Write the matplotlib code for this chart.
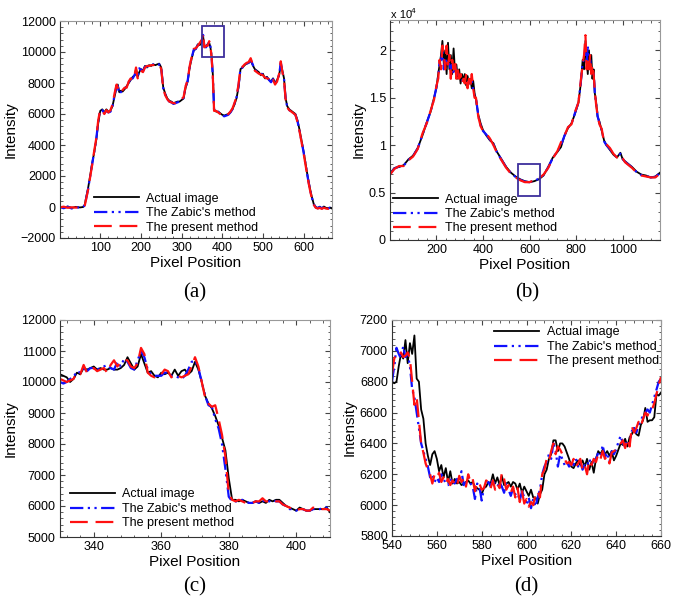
import numpy as np
import matplotlib.pyplot as plt
from matplotlib.ticker import AutoMinorLocator
from matplotlib.patches import Rectangle

plt.rcParams['font.family'] = ['Liberation Sans', 'DejaVu Sans']

# ---------------------------------------------------------------
# (a) full profile, 1..670 px
# ---------------------------------------------------------------
xa = [1, 10, 20, 30, 40, 50, 58, 62, 66, 70,
      75, 80, 85, 90, 95, 100, 105, 110, 115, 120,
      125, 130, 135, 140, 143, 147, 150, 155, 160, 165,
      170, 175, 180, 185, 188, 192, 196, 200, 205, 210,
      215, 220, 225, 230, 235, 240, 245, 250, 255, 260,
      265, 270, 275, 280, 285, 290, 295, 300, 305, 310,
      315, 320, 325, 330, 335, 340, 345, 350, 353, 356,
      360, 364, 368, 371, 374, 377, 380, 385, 390, 395,
      400, 405, 410, 415, 420, 425, 430, 435, 440, 445,
      450, 455, 460, 465, 470, 475, 480, 485, 490, 495,
      500, 505, 510, 515, 520, 525, 530, 535, 540, 544,
      548, 552, 556, 560, 565, 570, 575, 580, 585, 590,
      595, 600, 605, 610, 615, 620, 625, 630, 635, 640,
      645, 650, 655, 660, 665, 670]
actual_a = [20, -40, 30, -60, 10, -30, 0, 150, 700, 1200,
            2000, 2800, 3500, 4300, 5400, 6200, 6300, 6100, 6300, 6150,
            6200, 6500, 7100, 7700, 7900, 7400, 7500, 7450, 7600, 7800,
            8000, 8200, 8400, 8500, 8900, 8400, 8700, 8900, 8800, 9100,
            9000, 9150, 9100, 9200, 9150, 9200, 9250, 9000, 7700, 7300,
            7000, 6850, 6800, 6700, 6750, 6800, 6800, 6900, 7000, 7700,
            8100, 9000, 9600, 10100, 10200, 10500, 10450, 10700, 11000, 10400,
            10350, 10500, 10600, 10300, 9700, 8500, 6300, 6150, 6150, 6050,
            5950, 5900, 5950, 6000, 6100, 6300, 6600, 7000, 7700, 8900,
            9000, 9150, 9250, 9300, 9450, 9150, 8900, 8800, 8700, 8500,
            8600, 8300, 8400, 8200, 8100, 8300, 8000, 8200, 8500, 9200,
            8800, 8300, 7000, 6500, 6300, 6200, 6100, 6000, 5600, 5000,
            4300, 3600, 2800, 2000, 1300, 700, 200, 0, -60, 20,
            -80, 30, -50, -80, -40, -100]
zabic_a = [0, -80, 20, -100, -20, -50, 20, 120, 650, 1150,
           1950, 2750, 3550, 4350, 5500, 6250, 6250, 6050, 6200, 6100,
           6150, 6450, 7200, 7800, 7800, 7300, 7400, 7500, 7650, 7750,
           8050, 8250, 8300, 8550, 8800, 8350, 8950, 8850, 8750, 9050,
           9050, 9100, 9100, 9200, 9150, 9200, 9200, 8950, 7650, 7250,
           6950, 6800, 6750, 6650, 6700, 6750, 6800, 6900, 7050, 7750,
           8150, 9050, 9650, 10150, 10200, 10450, 10500, 10750, 11100, 10350,
           10300, 10450, 10650, 10350, 9650, 8400, 6250, 6150, 6150, 6000,
           5900, 5850, 5900, 5950, 6100, 6300, 6650, 7050, 7800, 8950,
           9000, 9200, 9250, 9300, 9500, 9200, 8850, 8750, 8650, 8600,
           8550, 8300, 8350, 8200, 8050, 8250, 7950, 8150, 8550, 9300,
           8750, 8250, 6950, 6450, 6250, 6150, 6050, 5950, 5550, 4950,
           4250, 3550, 2750, 1950, 1250, 650, 180, -20, -80, 0,
           -100, 0, -80, -100, -50, -120]
present_a = [-20, 20, -50, -20, -40, 10, -30, 100, 600, 1100,
             1900, 2700, 3600, 4400, 5600, 6300, 6200, 6000, 6250, 6100,
             6250, 6600, 7300, 7900, 7700, 7500, 7350, 7550, 7700, 7700,
             8100, 8300, 8200, 8600, 9000, 8300, 8500, 8800, 8700, 9000,
             9100, 9100, 9150, 9150, 9200, 9150, 9200, 8900, 7600, 7200,
             6950, 6800, 6750, 6700, 6700, 6800, 6850, 6950, 7100, 7800,
             8200, 9100, 9700, 10200, 10250, 10400, 10600, 10800, 11200, 10300,
             10400, 10400, 10700, 10400, 9600, 8300, 6200, 6200, 6100, 6000,
             5900, 5850, 5900, 6000, 6150, 6350, 6700, 7100, 7900, 9000,
             9050, 9200, 9300, 9350, 9600, 9200, 8800, 8700, 8600, 8550,
             8500, 8350, 8300, 8250, 8000, 8200, 7900, 8100, 8600, 9400,
             8700, 8200, 6900, 6400, 6250, 6150, 6050, 5950, 5500, 4900,
             4200, 3500, 2700, 1900, 1200, 600, 150, -50, -100, -60,
             -120, -50, -100, -120, -60, -150]

# ---------------------------------------------------------------
# (b) full profile, 1..1160 px
# ---------------------------------------------------------------
xb = [1, 20, 40, 60, 80, 100, 120, 140, 160, 175,
      190, 200, 208, 214, 220, 226, 232, 238, 244, 250,
      256, 262, 268, 274, 280, 286, 292, 298, 304, 310,
      316, 322, 328, 334, 340, 346, 352, 358, 364, 370,
      380, 390, 400, 415, 430, 445, 460, 480, 500, 520,
      540, 560, 580, 600, 620, 640, 660, 680, 700, 720,
      735, 750, 765, 780, 795, 810, 820, 828, 834, 840,
      845, 850, 855, 860, 865, 870, 875, 880, 886, 892,
      900, 910, 920, 930, 945, 960, 975, 990, 1000, 1010,
      1025, 1040, 1060, 1080, 1100, 1120, 1140, 1160]
actual_b = [7000, 7600, 7700, 7900, 8500, 8900, 9700, 11000, 12500, 13500,
            15000, 16000, 17500, 18500, 19500, 21000, 18500, 20000, 17500, 20800,
            18000, 19500, 17500, 20200, 17800, 18500, 17000, 18000, 16500, 17500,
            16800, 17500, 16300, 17300, 16500, 17000, 16000, 16800, 15500, 14800,
            13200, 12300, 11600, 11000, 10500, 10200, 9300, 8500, 7700, 7100,
            6700, 6400, 6200, 6100, 6200, 6400, 6800, 7700, 8700, 9300,
            9800, 11000, 11800, 12300, 13300, 14500, 16500, 19000, 18000, 21000,
            19000, 17500, 20000, 18000, 19500, 17000, 18000, 15500, 14500, 13000,
            12500, 11500, 10500, 10000, 9500, 9000, 8700, 9200, 8500, 8300,
            8000, 7700, 7200, 6900, 6800, 6600, 6700, 7100]
zabic_b = [6950, 7550, 7750, 7850, 8450, 8850, 9650, 11100, 12450, 13550,
           14900, 16100, 17200, 18800, 19000, 20000, 18000, 19200, 18500, 19000,
           18500, 18000, 18500, 17500, 18500, 17500, 17500, 17200, 17000, 17000,
           16500, 17000, 16800, 16500, 16800, 16500, 16800, 15800, 15200, 15000,
           13100, 12100, 11500, 11100, 10600, 10100, 9250, 8450, 7650, 7050,
           6650, 6350, 6150, 6100, 6250, 6450, 6850, 7650, 8650, 9350,
           10000, 11000, 11850, 12250, 13400, 14500, 16600, 18800, 19000, 20500,
           18500, 20500, 18500, 19000, 18000, 18000, 17800, 15600, 14300, 13100,
           12300, 11600, 10400, 10000, 9600, 9050, 8700, 9100, 8550, 8250,
           7950, 7650, 7150, 6850, 6750, 6600, 6650, 7050]
present_b = [6900, 7500, 7800, 7800, 8400, 8800, 9600, 11200, 12400, 13600,
             14800, 16200, 17000, 19000, 18000, 20500, 19500, 18000, 20500, 18500,
             19500, 17000, 19000, 18000, 19000, 17000, 18000, 17000, 17500, 16500,
             17000, 16500, 17500, 16000, 17000, 16200, 17500, 16000, 15000, 15000,
             13000, 12000, 11500, 11200, 10700, 10000, 9200, 8400, 7600, 7000,
             6600, 6300, 6100, 6100, 6300, 6500, 6900, 7600, 8600, 9400,
             10300, 11000, 11900, 12200, 13500, 14500, 16800, 18500, 19500, 21600,
             18000, 19000, 18000, 19500, 17500, 18500, 17500, 15800, 14200, 13200,
             12200, 11700, 10300, 10100, 9700, 9100, 8700, 9000, 8600, 8200,
             7900, 7600, 7100, 6800, 6700, 6600, 6600, 7000]

# ---------------------------------------------------------------
# (c) zoom of (a), pixels 330..410
# ---------------------------------------------------------------
xc = list(range(330, 411))
actual_c = [10250, 10200, 10150, 10000, 10100, 10300, 10250, 10450, 10400, 10450,
            10500, 10400, 10450, 10400, 10400, 10450, 10400, 10400, 10450, 10550,
            10800, 10600, 10400, 10500, 10900, 10600, 10300, 10350, 10200, 10150,
            10300, 10250, 10300, 10200, 10400, 10200, 10350, 10400, 10250, 10350,
            10650, 10400, 10000, 9550, 9300, 9150, 8900, 8600, 8200, 7800,
            6900, 6200, 6200, 6150, 6200, 6150, 6100, 6100, 6150, 6100,
            6150, 6100, 6200, 6150, 6200, 6200, 6100, 6000, 5950, 5900,
            5850, 5950, 5900, 5850, 5850, 5900, 5900, 5900, 5900, 5950,
            5800]
zabic_c = [10000, 9950, 10000, 10100, 10150, 10350, 10300, 10450, 10350, 10450,
           10450, 10400, 10450, 10500, 10550, 10450, 10400, 10650, 10500, 10750,
           10650, 10450, 10400, 10700, 11000, 10800, 10400, 10250, 10200, 10200,
           10200, 10300, 10300, 10200, 10200, 10150, 10100, 10200, 10400, 10650,
           10700, 10450, 10000, 9550, 9250, 9200, 8800, 8500, 8000, 7200,
           6300, 6150, 6150, 6150, 6200, 6150, 6100, 6100, 6150, 6100,
           6200, 6100, 6150, 6200, 6150, 6150, 6050, 6000, 5900, 5900,
           5850, 5900, 5900, 5850, 5850, 5900, 5900, 5900, 5950, 5950,
           5850]
present_c = [10100, 10050, 10000, 10050, 10100, 10300, 10250, 10550, 10300, 10400,
             10450, 10350, 10400, 10450, 10300, 10550, 10700, 10500, 10650, 10700,
             10700, 10500, 10450, 10600, 11100, 10900, 10300, 10200, 10150, 10250,
             10250, 10400, 10350, 10150, 10250, 10200, 10150, 10200, 10250, 10500,
             10800, 10500, 10000, 9500, 9300, 9200, 9250, 8800, 8300, 7600,
             6400, 6200, 6150, 6200, 6150, 6100, 6100, 6100, 6150, 6150,
             6250, 6150, 6150, 6200, 6150, 6150, 6050, 6000, 5950, 5900,
             5850, 5900, 5900, 5850, 5850, 5950, 5900, 5900, 5900, 5900,
             5850]

# ---------------------------------------------------------------
# (d) zoom of (b), pixels 540..660
# ---------------------------------------------------------------
xd = list(range(540, 661))
actual_d = [6800, 6790, 6800, 6900, 6980, 6950, 7070, 6920, 7050, 6980,
            7100, 6820, 6800, 6620, 6560, 6400, 6320, 6260, 6330, 6350,
            6300, 6220, 6260, 6180, 6240, 6150, 6220, 6140, 6170, 6140,
            6150, 6130, 6140, 6150, 6160, 6140, 6150, 6120, 6110, 6100,
            6070, 6110, 6120, 6150, 6140, 6200, 6140, 6180, 6130, 6190,
            6130, 6140, 6150, 6120, 6150, 6140, 6100, 6140, 6080, 6120,
            6090, 6060, 6100, 6050, 6050, 6010, 6070, 6100, 6200, 6230,
            6300, 6330, 6420, 6420, 6350, 6400, 6400, 6380, 6340, 6300,
            6250, 6240, 6270, 6290, 6260, 6290, 6250, 6300, 6230, 6280,
            6210, 6300, 6350, 6330, 6360, 6330, 6350, 6320, 6350, 6290,
            6320, 6360, 6400, 6390, 6430, 6380, 6440, 6460, 6500, 6460,
            6450, 6520, 6550, 6630, 6540, 6550, 6550, 6570, 6720, 6710,
            6730]
zabic_d = [6800, 6900, 7020, 6980, 6950, 7030, 6960, 6980, 6900, 6750,
           6700, 6600, 6500, 6400, 6350, 6300, 6250, 6180, 6200, 6150,
           6180, 6150, 6200, 6170, 6140, 6130, 6170, 6150, 6140, 6170,
           6150, 6220, 6130, 6150, 6180, 6140, 6120, 6040, 6140, 6120,
           6030, 6110, 6130, 6150, 6120, 6170, 6130, 6120, 6150, 6120,
           6080, 6150, 6100, 6060, 6110, 6070, 6080, 6030, 6090, 6050,
           6000, 6050, 5980, 6040, 5990, 6050, 6100, 6200, 6250, 6280,
           6330, 6300, 6400, 6350, 6250, 6330, 6300, 6260, 6280, 6250,
           6270, 6260, 6300, 6250, 6280, 6230, 6260, 6250, 6300, 6260,
           6290, 6300, 6340, 6320, 6390, 6310, 6340, 6280, 6350, 6330,
           6360, 6410, 6450, 6400, 6380, 6420, 6400, 6480, 6500, 6470,
           6520, 6550, 6580, 6600, 6620, 6600, 6650, 6700, 6750, 6800,
           6820]
present_d = [6850, 6950, 6980, 6970, 6990, 6960, 6970, 6990, 6950, 6800,
             6650, 6700, 6550, 6400, 6340, 6270, 6230, 6200, 6140, 6200,
             6180, 6210, 6150, 6180, 6140, 6170, 6130, 6160, 6140, 6120,
             6190, 6150, 6170, 6120, 6200, 6150, 6170, 6090, 6150, 6140,
             6100, 6110, 6160, 6150, 6110, 6160, 6100, 6140, 6110, 6210,
             6170, 6100, 6130, 6080, 6120, 6050, 6110, 6020, 6090, 6010,
             6040, 5990, 6020, 6000, 6070, 6090, 6050, 6200, 6230, 6300,
             6280, 6350, 6400, 6330, 6380, 6360, 6330, 6300, 6270, 6280,
             6260, 6300, 6250, 6270, 6300, 6230, 6260, 6200, 6290, 6260,
             6300, 6280, 6330, 6300, 6350, 6300, 6320, 6270, 6340, 6350,
             6360, 6380, 6400, 6420, 6370, 6430, 6380, 6510, 6470, 6500,
             6540, 6510, 6560, 6600, 6580, 6620, 6620, 6660, 6720, 6780,
             6830]

LABELS = ['Actual image', "The Zabic's method", 'The present method']
BOX_COLOR = '#3d2e9c'

fig = plt.figure(figsize=(6.75, 6.03), dpi=100)


def px_axes(l, t, r, b):
    # axes rectangle given in pixel coordinates (origin top-left)
    return fig.add_axes([l / 675, 1 - b / 603, (r - l) / 675, (b - t) / 603])


def draw(ax, x, actual, zabic, present):
    ax.plot(x, actual, color='black', lw=1.3, label=LABELS[0])
    ax.plot(x, zabic, color='#1010ff', lw=1.6, ls=(0, (6, 2, 1, 2, 1, 2)), label=LABELS[1])
    ax.plot(x, present, color='#ff1010', lw=1.6, ls=(0, (8, 3.5)), label=LABELS[2])


def style(ax):
    ax.tick_params(which='both', direction='in', top=True, right=True,
                   labelsize=9, pad=3, color='#444444')
    ax.tick_params(which='major', length=3.5)
    ax.tick_params(which='minor', length=1.8)
    ax.xaxis.set_minor_locator(AutoMinorLocator(5))
    ax.yaxis.set_minor_locator(AutoMinorLocator(5))
    for side in ['left', 'bottom']:
        ax.spines[side].set_color('#333333')
    for side in ['top', 'right']:
        ax.spines[side].set_color('#999999')
    ax.set_xlabel('Pixel Position', fontsize=11, labelpad=1)
    ax.set_ylabel('Intensity', fontsize=11, labelpad=2)


def legend(ax, **kw):
    ax.legend(frameon=False, fontsize=9, handlelength=3.6, handletextpad=0.6,
              labelspacing=0.2, borderpad=0, borderaxespad=0, **kw)


# (a)
ax_a = px_axes(60, 21, 332, 238)
draw(ax_a, xa, actual_a, zabic_a, present_a)
ax_a.add_patch(Rectangle((350, 9650), 55, 2050, fill=False, ec=BOX_COLOR, lw=1.3, zorder=5))
ax_a.set_xlim(1, 670)
ax_a.set_ylim(-2000, 12000)
ax_a.set_xticks([100, 200, 300, 400, 500, 600])
ax_a.set_yticks(range(-2000, 12001, 2000))
style(ax_a)
legend(ax_a, loc='lower left', bbox_to_anchor=(0.125, 0.02))

# (b)
ax_b = px_axes(390, 20, 660, 240)
draw(ax_b, xb, actual_b, zabic_b, present_b)
ax_b.add_patch(Rectangle((550, 4600), 95, 3400, fill=False, ec=BOX_COLOR, lw=1.3, zorder=5))
ax_b.set_xlim(1, 1160)
ax_b.set_ylim(0, 23200)
ax_b.set_xticks([200, 400, 600, 800, 1000])
ax_b.set_yticks([0, 5000, 10000, 15000, 20000])
ax_b.set_yticklabels(['0', '0.5', '1', '1.5', '2'])
style(ax_b)
legend(ax_b, loc='lower left', bbox_to_anchor=(0.01, 0.025))
fig.text(391 / 675, 1 - 18 / 603, 'x 10', fontsize=8, ha='left', va='baseline')
fig.text(411 / 675, 1 - 13 / 603, '4', fontsize=6, ha='left', va='baseline')

# (c)
ax_c = px_axes(60, 320, 330, 537)
draw(ax_c, xc, actual_c, zabic_c, present_c)
ax_c.set_xlim(330, 410)
ax_c.set_ylim(5000, 12000)
ax_c.set_xticks([340, 360, 380, 400])
ax_c.set_yticks(range(5000, 12001, 1000))
style(ax_c)
legend(ax_c, loc='lower left', bbox_to_anchor=(0.037, 0.035))

# (d)
ax_d = px_axes(392, 320, 661, 536)
draw(ax_d, xd, actual_d, zabic_d, present_d)
ax_d.set_xlim(540, 660)
ax_d.set_ylim(5800, 7200)
ax_d.set_xticks(range(540, 661, 20))
ax_d.set_yticks(range(5800, 7201, 200))
style(ax_d)
legend(ax_d, loc='upper left', bbox_to_anchor=(0.38, 0.97))

# panel letters
for lx, ly, s in [(195, 293, '(a)'), (527, 293, '(b)'), (195, 587, '(c)'), (526, 587, '(d)')]:
    fig.text(lx / 675, 1 - ly / 603, s, family='Liberation Serif', fontsize=15,
             ha='center', va='center')

fig.savefig('out.png', dpi=100)
